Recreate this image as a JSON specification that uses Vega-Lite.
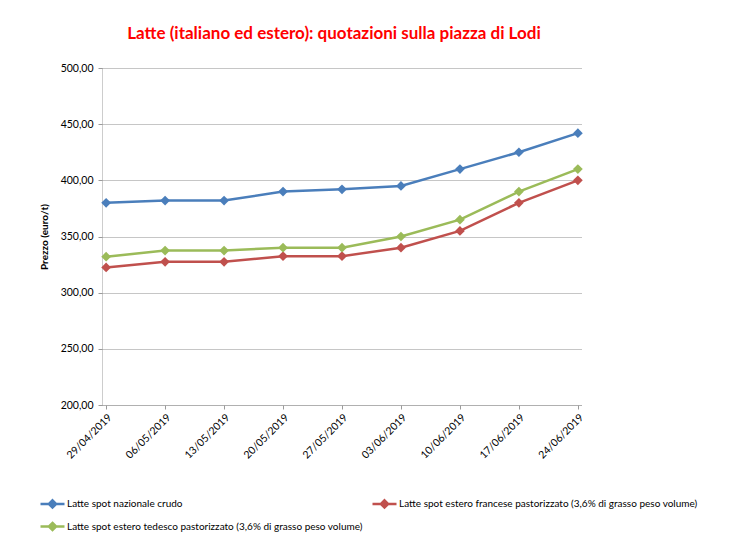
{
  "$schema": "https://vega.github.io/schema/vega-lite/v6.json",
  "width": 480,
  "height": 337,
  "autosize": {"type": "none"},
  "padding": {"left": 102, "top": 68, "right": 160, "bottom": 133},
  "background": "white",
  "title": {
    "text": "Latte (italiano ed estero): quotazioni sulla piazza di Lodi",
    "color": "#FF0000",
    "font": "Lato",
    "fontSize": 17,
    "fontWeight": "bold",
    "anchor": "middle",
    "frame": "group",
    "dx": -8,
    "offset": 20
  },
  "data": {
    "values": [
      {"data": "29/04/2019", "serie": "Latte spot nazionale crudo", "prezzo": 380},
      {"data": "06/05/2019", "serie": "Latte spot nazionale crudo", "prezzo": 382},
      {"data": "13/05/2019", "serie": "Latte spot nazionale crudo", "prezzo": 382},
      {"data": "20/05/2019", "serie": "Latte spot nazionale crudo", "prezzo": 390},
      {"data": "27/05/2019", "serie": "Latte spot nazionale crudo", "prezzo": 392},
      {"data": "03/06/2019", "serie": "Latte spot nazionale crudo", "prezzo": 395},
      {"data": "10/06/2019", "serie": "Latte spot nazionale crudo", "prezzo": 410},
      {"data": "17/06/2019", "serie": "Latte spot nazionale crudo", "prezzo": 425},
      {"data": "24/06/2019", "serie": "Latte spot nazionale crudo", "prezzo": 442},
      {"data": "29/04/2019", "serie": "Latte spot estero francese pastorizzato (3,6% di grasso peso volume)", "prezzo": 322.5},
      {"data": "06/05/2019", "serie": "Latte spot estero francese pastorizzato (3,6% di grasso peso volume)", "prezzo": 327.5},
      {"data": "13/05/2019", "serie": "Latte spot estero francese pastorizzato (3,6% di grasso peso volume)", "prezzo": 327.5},
      {"data": "20/05/2019", "serie": "Latte spot estero francese pastorizzato (3,6% di grasso peso volume)", "prezzo": 332.5},
      {"data": "27/05/2019", "serie": "Latte spot estero francese pastorizzato (3,6% di grasso peso volume)", "prezzo": 332.5},
      {"data": "03/06/2019", "serie": "Latte spot estero francese pastorizzato (3,6% di grasso peso volume)", "prezzo": 340},
      {"data": "10/06/2019", "serie": "Latte spot estero francese pastorizzato (3,6% di grasso peso volume)", "prezzo": 355},
      {"data": "17/06/2019", "serie": "Latte spot estero francese pastorizzato (3,6% di grasso peso volume)", "prezzo": 380},
      {"data": "24/06/2019", "serie": "Latte spot estero francese pastorizzato (3,6% di grasso peso volume)", "prezzo": 400},
      {"data": "29/04/2019", "serie": "Latte spot estero tedesco pastorizzato (3,6% di grasso peso volume)", "prezzo": 332},
      {"data": "06/05/2019", "serie": "Latte spot estero tedesco pastorizzato (3,6% di grasso peso volume)", "prezzo": 337.5},
      {"data": "13/05/2019", "serie": "Latte spot estero tedesco pastorizzato (3,6% di grasso peso volume)", "prezzo": 337.5},
      {"data": "20/05/2019", "serie": "Latte spot estero tedesco pastorizzato (3,6% di grasso peso volume)", "prezzo": 340},
      {"data": "27/05/2019", "serie": "Latte spot estero tedesco pastorizzato (3,6% di grasso peso volume)", "prezzo": 340},
      {"data": "03/06/2019", "serie": "Latte spot estero tedesco pastorizzato (3,6% di grasso peso volume)", "prezzo": 350},
      {"data": "10/06/2019", "serie": "Latte spot estero tedesco pastorizzato (3,6% di grasso peso volume)", "prezzo": 365},
      {"data": "17/06/2019", "serie": "Latte spot estero tedesco pastorizzato (3,6% di grasso peso volume)", "prezzo": 390},
      {"data": "24/06/2019", "serie": "Latte spot estero tedesco pastorizzato (3,6% di grasso peso volume)", "prezzo": 410}
    ]
  },
  "encoding": {
    "x": {
      "field": "data",
      "type": "ordinal",
      "sort": null,
      "scale": {"type": "point", "padding": 0.07},
      "axis": {
        "title": null,
        "labelAngle": -45,
        "labelFont": "Lato",
        "labelFontSize": 10.5,
        "labelColor": "#000000",
        "labelPadding": 3,
        "grid": false,
        "domainColor": "#9a9a9a",
        "domainDash": [1, 1],
        "tickColor": "#9a9a9a",
        "tickSize": 4
      }
    },
    "y": {
      "field": "prezzo",
      "type": "quantitative",
      "scale": {"domain": [200, 500], "nice": false, "zero": false},
      "axis": {
        "title": "Prezzo (euro/t)",
        "titleFont": "Lato",
        "titleFontSize": 10,
        "titleFontWeight": "bold",
        "titleColor": "#000000",
        "titlePadding": 11,
        "values": [200, 250, 300, 350, 400, 450, 500],
        "labelExpr": "replace(format(datum.value, '.2f'), '.', ',')",
        "labelFont": "Lato",
        "labelFontSize": 10.5,
        "labelColor": "#000000",
        "labelPadding": 5,
        "grid": true,
        "gridColor": "#8c8c8c",
        "gridDash": [1, 1],
        "gridWidth": 1,
        "domainColor": "#9a9a9a",
        "domainDash": [1, 1],
        "tickColor": "#9a9a9a",
        "tickSize": 4
      }
    },
    "color": {
      "field": "serie",
      "type": "nominal",
      "sort": null,
      "scale": {
        "domain": [
          "Latte spot nazionale crudo",
          "Latte spot estero francese pastorizzato (3,6% di grasso peso volume)",
          "Latte spot estero tedesco pastorizzato (3,6% di grasso peso volume)"
        ],
        "range": ["#4A7EBB", "#C0504D", "#9BBB59"]
      },
      "legend": {
        "title": null,
        "orient": "none",
        "legendX": -63,
        "legendY": 422,
        "direction": "horizontal",
        "columns": 2,
        "columnPadding": 4,
        "rowPadding": -7,
        "labelFont": "Lato",
        "labelFontSize": 10,
        "labelColor": "#000000",
        "labelLimit": 400,
        "labelOffset": 1,
        "symbolType": "M-1,0L1,0M0,-0.3L0.3,0L0,0.3L-0.3,0Z",
        "symbolSize": 576,
        "symbolStrokeWidth": 2.5,
        "encode": {
          "symbols": {"update": {"fill": {"scale": "color", "field": "value"}}}
        }
      }
    }
  },
  "layer": [
    {"mark": {"type": "line", "strokeWidth": 2.5}},
    {"mark": {"type": "point", "shape": "diamond", "filled": true, "size": 95, "opacity": 1}}
  ],
  "config": {
    "view": {"stroke": null},
    "font": "Lato"
  }
}
